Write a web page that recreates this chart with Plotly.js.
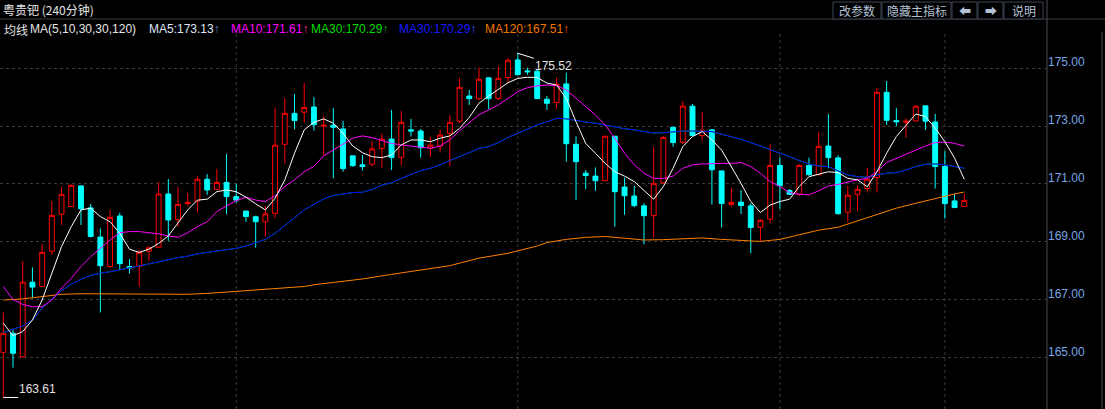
<!DOCTYPE html>
<html>
<head>
<meta charset="utf-8">
<script src="https://cdn.plot.ly/plotly-3.0.1.min.js"></script>
<style>
html,body{margin:0;padding:0;background:#000;}
#chart{width:1105px;height:409px;}
</style>
</head>
<body>
<div id="chart"></div>
<script>
// ---- Data (240-minute bars, 100 candles) ----
const openP = [165.17,165.83,165.02,167.60,167.45,168.67,169.95,170.22,170.93,170.17,
169.16,168.14,169.89,168.14,168.14,168.67,168.81,170.65,169.77,170.32,
170.40,171.16,170.81,171.05,170.56,170.06,169.86,169.69,169.98,172.37,
173.44,173.48,173.66,173.00,173.03,172.90,171.97,171.66,171.68,172.23,
172.55,171.92,172.87,172.83,172.24,172.31,172.75,173.17,174.04,173.95,
174.67,173.95,174.68,175.29,174.91,174.90,173.93,173.82,174.46,172.37,
171.37,171.27,171.11,172.65,170.89,170.58,170.24,169.90,171.04,172.96,
172.44,173.69,172.67,172.87,171.45,170.29,170.37,170.24,169.50,169.78,
171.64,170.77,170.64,171.64,171.32,172.31,171.90,170.02,170.64,170.84,
171.22,174.17,173.19,173.13,173.18,173.70,173.14,171.60,170.41,170.22];
const highP = [166.55,165.97,168.33,168.11,168.92,170.41,170.90,170.98,170.95,170.31,
169.46,170.10,170.00,168.40,168.71,168.83,171.07,171.17,170.89,170.69,
171.27,171.34,171.52,172.04,171.01,170.06,169.90,170.24,173.63,173.97,
174.11,174.49,174.00,173.36,173.62,173.18,171.97,172.00,172.49,172.75,
173.56,173.52,173.25,172.90,172.61,172.87,173.37,174.67,174.25,175.03,
174.70,175.08,175.35,175.52,175.02,174.95,174.04,174.68,174.85,172.65,
171.48,171.57,172.65,172.65,171.22,170.94,170.33,172.27,172.66,172.96,
173.87,173.77,173.50,172.90,171.45,170.87,170.79,170.33,169.79,172.38,
171.92,170.82,171.68,171.91,172.80,173.42,171.99,170.93,170.94,171.56,
174.33,174.56,173.63,173.27,173.72,173.70,173.42,172.14,170.65,170.65];
const lowP = [163.61,164.64,165.00,167.04,167.45,168.55,169.58,170.20,169.58,169.15,
166.55,168.10,168.02,167.90,167.45,168.34,168.77,169.03,169.52,170.25,
170.01,170.62,170.80,169.95,170.35,169.69,168.79,169.18,169.83,171.70,
172.89,173.12,172.84,171.98,171.19,171.42,171.59,171.46,171.60,171.56,
171.48,171.65,172.64,171.91,171.94,172.08,171.63,173.10,173.73,173.90,
173.59,173.90,174.48,174.75,174.78,173.95,173.56,173.59,171.77,170.44,
170.82,170.76,171.11,169.52,169.93,170.19,168.91,169.15,171.00,172.29,
172.38,172.67,172.50,170.28,169.49,170.21,169.96,168.60,169.00,169.64,
170.14,170.62,170.58,171.27,171.30,171.54,169.94,169.69,170.06,170.70,
170.70,173.04,173.00,172.60,173.18,172.87,170.84,169.80,170.18,170.22];
const closeP = [165.83,165.14,167.60,167.43,168.63,169.91,170.64,170.95,170.14,169.18,
168.17,169.84,168.24,168.09,168.63,168.79,170.65,169.75,170.29,170.36,
171.16,170.79,171.05,170.56,170.44,169.87,169.69,169.96,172.34,173.44,
173.19,173.64,173.05,173.03,172.96,171.53,171.63,171.60,172.21,172.55,
171.91,173.13,172.83,172.25,172.34,172.69,173.13,174.34,173.95,174.62,
173.95,174.65,175.28,174.78,174.88,173.95,173.79,174.45,172.39,171.77,
171.29,171.11,172.65,170.73,170.59,170.25,169.90,171.02,172.61,172.43,
173.69,172.67,172.85,171.49,170.32,170.36,170.25,169.49,169.74,171.64,
170.94,170.64,171.64,171.32,172.30,171.91,169.97,170.61,170.81,171.16,
174.17,173.20,173.15,173.17,173.69,173.17,171.60,170.32,170.18,170.43];

const ma5 = [166.18,165.75,165.89,166.29,166.98,167.90,168.83,169.52,170.10,170.16,
169.87,169.69,169.29,168.74,168.63,168.74,168.94,169.20,169.64,170.10,
170.44,170.47,170.73,170.79,170.73,170.54,170.31,170.10,170.50,171.14,
172.06,172.87,173.13,173.25,173.10,172.75,172.31,172.08,171.94,171.91,
172.00,172.35,172.52,172.52,172.46,172.58,172.66,172.92,173.30,173.79,
174.04,174.27,174.50,174.65,174.69,174.68,174.49,174.42,173.96,173.15,
172.40,172.06,171.71,171.42,171.27,171.08,170.79,170.47,170.91,171.54,
172.29,172.64,172.81,172.52,172.17,171.60,171.02,170.39,170.01,170.27,
170.39,170.47,170.91,171.25,171.34,171.42,171.39,171.19,171.14,170.90,
171.42,172.06,172.64,173.04,173.42,173.33,172.93,172.46,171.89,171.16];
const ma10 = [167.45,167.00,166.83,166.75,166.75,166.98,167.39,167.73,168.14,168.48,
168.77,169.06,169.31,169.35,169.35,169.31,169.27,169.20,169.15,169.31,
169.52,169.69,170.04,170.24,170.42,170.54,170.44,170.39,170.59,170.91,
171.14,171.42,171.61,171.97,172.17,172.40,172.58,172.66,172.60,172.50,
172.40,172.35,172.31,172.27,172.23,172.31,172.52,172.84,173.12,173.39,
173.56,173.73,173.96,174.19,174.33,174.39,174.42,174.40,174.25,173.96,
173.67,173.39,173.04,172.58,172.06,171.66,171.37,171.19,171.19,171.27,
171.54,171.66,171.69,171.71,171.71,171.71,171.74,171.60,171.37,171.08,
170.91,170.70,170.64,170.62,170.76,170.93,170.98,171.06,171.14,171.19,
171.42,171.74,171.89,172.02,172.17,172.31,172.43,172.45,172.40,172.31];
const ma30 = [165.86,165.97,166.08,166.29,166.70,167.00,167.31,167.53,167.70,167.83,
167.91,167.96,168.02,168.09,168.16,168.23,168.31,168.37,168.45,168.50,
168.58,168.63,168.68,168.71,168.77,168.85,168.97,169.08,169.29,169.56,
169.84,170.10,170.29,170.48,170.60,170.66,170.70,170.71,170.81,170.96,
171.04,171.19,171.33,171.46,171.54,171.66,171.81,171.94,172.08,172.23,
172.29,172.43,172.61,172.75,172.89,173.04,173.15,173.27,173.25,173.19,
173.14,173.10,173.03,172.96,172.91,172.87,172.81,172.76,172.77,172.81,
172.83,172.83,172.82,172.81,172.72,172.64,172.54,172.43,172.31,172.20,
172.08,171.94,171.81,171.69,171.62,171.60,171.45,171.31,171.25,171.23,
171.31,171.37,171.39,171.48,171.60,171.68,171.69,171.66,171.60,171.54];
const ma120Idx = [0,2,4,6,8,11,15,19,21,23,25,28,31,32,34,37,40,43,46,49,52,55,56,58,60,62,64,66,68,70,72,74,76,78,80,82,84,86,88,90,92,94,96,98,99];
const ma120 = [166.98,167.02,167.10,167.18,167.20,167.20,167.18,167.18,167.21,167.26,167.31,167.36,167.45,167.51,167.58,167.71,167.87,168.02,168.17,168.43,168.60,168.85,168.97,169.08,169.15,169.18,169.13,169.06,169.07,169.11,169.13,169.08,169.04,169.01,169.08,169.23,169.40,169.50,169.72,169.93,170.16,170.33,170.50,170.65,170.72];

const tickVals = [165,167,169,171,173,175];
const dividerIdx = [24,53,80,97];
const legendItems = [
  {text:'MA5:173.13', color:'#dfe8f8', arrow:'#5f8fd8', px:148},
  {text:'MA10:171.61', color:'#ff00ff', arrow:'#ff2a9a', px:230},
  {text:'MA30:170.29', color:'#00dd00', arrow:'#00b000', px:310},
  {text:'MA30:170.29', color:'#1a1aff', arrow:'#2f5fff', px:398},
  {text:'MA120:167.51', color:'#f07800', arrow:'#ff5a00', px:484}
];
const buttons = [
  {label:'改参数', x0:833, x1:881},
  {label:'隐藏主指标', x0:882, x1:951},
  {label:'⬅', x0:952, x1:977},
  {label:'➡', x0:978, x1:1003},
  {label:'说明', x0:1004, x1:1043}
];

// ---- Geometry helpers (pixel -> paper) ----
const W = 1105, H = 409, ML = 0, MR = 58, MT = 20, MB = 0;
const PW = W - ML - MR, PH = H - MT - MB;
const px2x = p => (p - ML) / PW;
const py2y = p => (H - MB - p) / PH;

const idx = openP.map((_, i) => i);

const traces = [
  {
    type:'candlestick', x:idx, open:openP, high:highP, low:lowP, close:closeP,
    increasing:{line:{color:'#ff0000', width:1}, fillcolor:'#000000'},
    decreasing:{line:{color:'#00ffff', width:1}, fillcolor:'#00ffff'},
    whiskerwidth:0, hoverinfo:'skip'
  },
  {type:'scatter', mode:'lines', x:ma120Idx, y:ma120, line:{color:'#ff7f00', width:1}, hoverinfo:'skip'},
  {type:'scatter', mode:'lines', x:idx, y:ma30, line:{color:'#00c000', width:1}, hoverinfo:'skip'},
  {type:'scatter', mode:'lines', x:idx, y:ma30, line:{color:'#0000ff', width:1}, hoverinfo:'skip'},
  {type:'scatter', mode:'lines', x:idx, y:ma10, line:{color:'#ff00ff', width:1}, hoverinfo:'skip'},
  {type:'scatter', mode:'lines', x:idx, y:ma5, line:{color:'#ffffff', width:1}, hoverinfo:'skip'}
];

// max / min markers
let iMax = 0, iMin = 0;
highP.forEach((v, i) => { if (v > highP[iMax]) iMax = i; });
lowP.forEach((v, i) => { if (v < lowP[iMin]) iMin = i; });

const annFont = {family:'Liberation Sans, Arial, sans-serif', size:12, color:'#e0e0e0'};
const annotations = [
  {x:iMax, y:highP[iMax], xref:'x', yref:'y', text:highP[iMax].toFixed(2), showarrow:true,
   arrowhead:0, arrowwidth:1, arrowcolor:'#ffffff', ax:16, ay:5, xanchor:'left', yanchor:'top',
   font:annFont, borderpad:0},
  {x:iMin, y:lowP[iMin], xref:'x', yref:'y', text:lowP[iMin].toFixed(2), showarrow:true,
   arrowhead:0, arrowwidth:1, arrowcolor:'#ffffff', ax:15, ay:0, xanchor:'left', yanchor:'bottom',
   font:annFont, borderpad:0},
  {x:px2x(1), y:py2y(10), xref:'paper', yref:'paper', text:'粤贵钯 (240分钟)', showarrow:false,
   xanchor:'left', yanchor:'middle', font:{family:'Noto Sans CJK SC, sans-serif', size:12, color:'#e4e4e4'}},
  {x:px2x(2), y:py2y(29), xref:'paper', yref:'paper', text:'均线', showarrow:false,
   xanchor:'left', yanchor:'middle', font:{family:'Noto Sans CJK SC, sans-serif', size:12, color:'#e4e4e4'}},
  {x:px2x(28), y:py2y(29), xref:'paper', yref:'paper', text:'MA(5,10,30,30,120)', showarrow:false,
   xanchor:'left', yanchor:'middle', font:{family:'Liberation Sans, Arial, sans-serif', size:12, color:'#e4e4e4'}}
];
legendItems.forEach(it => {
  annotations.push({x:px2x(it.px - 1), y:py2y(29), xref:'paper', yref:'paper',
    text:it.text + '<span style="color:' + it.arrow + '">↑</span>', showarrow:false,
    xanchor:'left', yanchor:'middle', font:{family:'Liberation Sans, Arial, sans-serif', size:12, color:it.color}});
});

const shapes = [];
dividerIdx.forEach(i => shapes.push({type:'line', xref:'x', yref:'paper', x0:i, x1:i, y0:0, y1:py2y(33),
  line:{color:'#3a3a3a', width:1, dash:'dot'}, layer:'below'}));
// header separator and frame lines
shapes.push({type:'line', xref:'paper', yref:'paper', x0:0, x1:px2x(W), y0:py2y(19), y1:py2y(19), line:{color:'#3a3f4a', width:1}});
shapes.push({type:'line', xref:'paper', yref:'paper', x0:px2x(1047), x1:px2x(1047), y0:0, y1:py2y(0), line:{color:'#4a4d55', width:1}});
shapes.push({type:'line', xref:'paper', yref:'paper', x0:px2x(1102), x1:px2x(1102), y0:0, y1:py2y(32), line:{color:'#4a4d55', width:1}});
buttons.forEach(b => {
  shapes.push({type:'rect', xref:'paper', yref:'paper', x0:px2x(b.x0), x1:px2x(b.x1), y0:py2y(19), y1:py2y(2),
    line:{color:'#3c4452', width:1}, fillcolor:'#000000'});
  annotations.push({x:px2x((b.x0 + b.x1) / 2), y:py2y(10.5), xref:'paper', yref:'paper', text:b.label, showarrow:false,
    xanchor:'center', yanchor:'middle', font:{family:'Noto Sans CJK SC, DejaVu Sans, sans-serif', size:12, color:'#b4c0d6'}});
});

const layout = {
  width:W, height:H,
  paper_bgcolor:'#000000', plot_bgcolor:'#000000',
  margin:{l:ML, r:MR, t:MT, b:MB, pad:0},
  showlegend:false,
  boxgap:0.28,
  xaxis:{range:[-0.34, 107.52], showgrid:false, zeroline:false, showticklabels:false, showline:false,
    ticks:'', rangeslider:{visible:false}, fixedrange:true},
  yaxis:{side:'right', range:[163.211, 176.671], tickvals:tickVals, ticktext:tickVals.map(v => v.toFixed(2)),
    showgrid:true, gridcolor:'#3a3a3a', griddash:'dot', gridwidth:1, zeroline:false, showline:false,
    ticks:'', ticklabelshift:-6, ticklabelstandoff:0,
    tickfont:{family:'Liberation Sans, Arial, sans-serif', size:12, color:'#79a6e6'}, fixedrange:true},
  annotations:annotations,
  shapes:shapes
};

Plotly.newPlot('chart', traces, layout, {displayModeBar:false, staticPlot:true});
</script>
</body>
</html>
